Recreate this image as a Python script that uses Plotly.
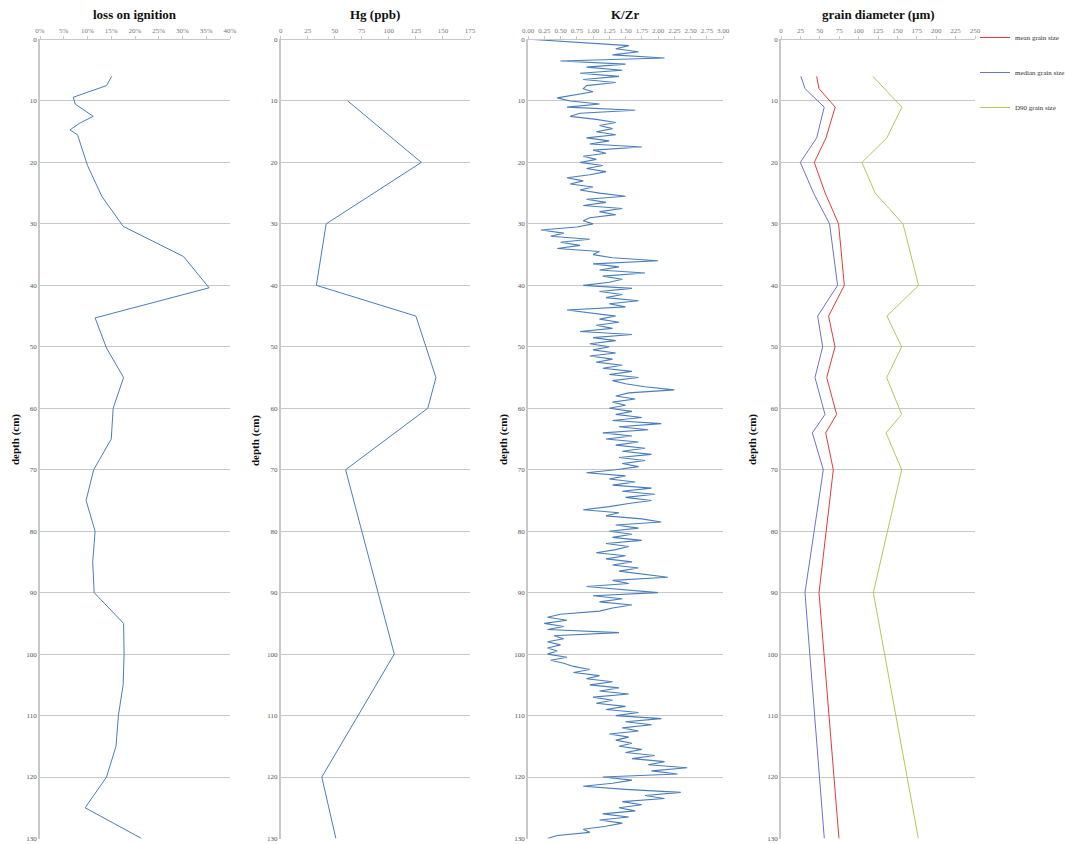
import plotly.graph_objects as go

# ---------------- data ----------------
loi_depth = [6, 7.5, 9.4, 10.5, 12.5, 13.6, 14.7, 15.5, 20.5, 25.5, 30.4, 35.3, 40.4, 45.3, 50.2,
             55, 60, 65, 70, 75, 80, 85, 90, 95, 100, 105, 110, 115, 120, 125, 130]
loi_pct = [15.1, 14.0, 7.0, 7.4, 11.2, 8.4, 6.3, 7.9, 10.0, 13.0, 17.5, 30.2, 35.6, 11.6, 14.0,
           17.6, 15.4, 15.0, 11.3, 9.7, 11.6, 11.1, 11.4, 17.6, 17.7, 17.5, 16.5, 16.0, 14.0, 9.5, 21.4]

hg_depth = [10, 20, 30, 40, 45, 55, 60, 70, 100, 120, 130]
hg_ppb = [62, 130, 42, 33, 125, 143.5, 136, 60, 105, 38, 51]

kzr_step = 0.5
kzr = [
    0.08, 0.90, 1.55, 1.35, 1.70, 1.30, 2.10, 0.50, 1.50, 0.90,
    1.45, 0.80, 1.40, 0.85, 1.35, 0.90, 0.85, 1.00, 0.70, 0.45,
    0.65, 1.10, 0.60, 1.65, 0.80, 0.65, 1.05, 1.35, 1.10, 1.30,
    1.05, 1.35, 0.90, 1.25, 0.95, 1.75, 1.00, 1.20, 0.85, 1.05,
    0.80, 1.15, 0.90, 1.20, 0.95, 0.60, 0.85, 0.65, 1.00, 0.80,
    1.10, 1.50, 0.90, 1.20, 0.85, 1.45, 1.10, 1.35, 0.95, 0.85,
    1.00, 0.75, 0.20, 0.55, 0.35, 0.95, 0.50, 0.80, 0.45, 1.10,
    1.00, 1.30, 2.00, 1.00, 1.40, 1.10, 1.80, 1.15, 1.45, 1.25,
    0.85, 1.60, 1.10, 1.45, 1.20, 1.70, 1.25, 1.50, 0.60, 1.00,
    1.35, 1.10, 1.40, 1.05, 1.30, 0.80, 1.60, 1.00, 1.35, 0.95,
    1.25, 1.00, 1.35, 0.95, 1.30, 1.05, 1.45, 1.15, 1.60, 1.25,
    1.70, 1.30, 1.50, 1.80, 2.25, 1.55, 1.35, 1.65, 1.30, 1.50,
    1.25, 1.60, 1.35, 1.75, 1.30, 2.05, 1.40, 1.85, 1.15, 1.60,
    1.20, 1.70, 1.35, 1.80, 1.45, 1.90, 1.40, 1.80, 1.45, 1.70,
    1.35, 0.90, 1.50, 1.25, 1.65, 1.30, 1.90, 1.45, 1.95, 1.50,
    1.90, 1.55, 1.25, 0.85, 1.40, 1.20, 1.75, 2.05, 1.35, 1.70,
    1.25, 1.60, 1.30, 1.75, 1.20, 1.55, 1.35, 1.05, 1.50, 1.20,
    1.60, 1.30, 1.70, 1.40, 1.80, 2.15, 1.30, 1.55, 0.90, 1.40,
    2.00, 1.00, 1.45, 1.10, 1.60, 1.30, 1.10, 0.50, 0.30, 0.60,
    0.25, 0.55, 0.30, 1.40, 0.40, 0.55, 0.30, 0.50, 0.30, 0.45,
    0.30, 0.60, 0.35, 0.55, 0.70, 0.95, 0.70, 1.10, 0.90, 1.30,
    0.95, 1.40, 1.10, 1.55, 1.00, 1.30, 1.05, 1.50, 1.20, 1.70,
    1.35, 2.05, 1.50, 1.90, 1.45, 1.70, 1.25, 1.55, 1.35, 1.60,
    1.40, 1.75, 1.50, 1.95, 1.60, 2.10, 1.85, 2.45, 1.90, 2.30,
    1.15, 1.60, 1.30, 0.85, 1.50, 2.35, 1.80, 2.10, 1.45, 1.75,
    1.40, 1.65, 1.15, 1.55, 1.10, 1.45, 1.20, 0.85, 0.95, 0.45,
    0.30,
]
kzr_depth = [i * kzr_step for i in range(len(kzr))]

grain_depth = [6, 8, 11, 16, 20, 25, 30, 40, 45, 50, 55, 61, 64, 70, 90, 130]
grain_mean = [46, 49, 69.8, 58, 42.9, 57, 74.2, 81.6, 61.3, 69.6, 58.9, 71.7, 57.6, 67.4, 49, 74.7]
grain_median = [25.6, 31, 55.7, 46, 24.9, 42, 62.6, 72.9, 47.2, 53.7, 43.8, 56.7, 40.4, 54.5, 30.9, 55.8]
grain_d90 = [118.4, None, 155.8, 136.5, 104.3, 121.4, 157.2, 177.3, 136.5, 155.5, 136.2, 155.5, 135.3, 155.5, 119, 177]

titles = ["loss on ignition", "Hg (ppb)", "K/Zr", "grain diameter (µm)"]

# ---------------- layout helpers ----------------
W, H = 1065, 844
Y_TOP, Y_BOT = 39.5, 838.5
panels_px = [(40, 230), (280.7, 470), (528, 723), (781, 975)]
xranges = [[0, 40], [0, 175], [0, 3.0], [0, 250]]
dticks = [5, 25, 0.25, 25]
title_x = [135, 375, 625, 878]
ylab_x = [15, 255, 503, 752]

SERIF = "Liberation Serif, Times New Roman, serif"
BLUE = "#4a7ebb"

fig = go.Figure()

fig.add_trace(go.Scatter(x=loi_pct, y=loi_depth, mode="lines", line=dict(color=BLUE, width=1),
                         xaxis="x", yaxis="y", showlegend=False))
fig.add_trace(go.Scatter(x=hg_ppb, y=hg_depth, mode="lines", line=dict(color=BLUE, width=1),
                         xaxis="x2", yaxis="y2", showlegend=False))
fig.add_trace(go.Scatter(x=kzr, y=kzr_depth, mode="lines", line=dict(color=BLUE, width=1.1),
                         xaxis="x3", yaxis="y3", showlegend=False))
fig.add_trace(go.Scatter(x=grain_mean, y=grain_depth, mode="lines", name="mean grain size",
                         line=dict(color="#e03c3c", width=1), xaxis="x4", yaxis="y4",
                         legendgroup="a"))
fig.add_trace(go.Scatter(x=grain_median, y=grain_depth, mode="lines", name="median grain size",
                         line=dict(color="#6e72c8", width=1), xaxis="x4", yaxis="y4",
                         legendgroup="b"))
fig.add_trace(go.Scatter(x=grain_d90, y=grain_depth, mode="lines", name="D90 grain size",
                         line=dict(color="#b9c45c", width=1), xaxis="x4", yaxis="y4",
                         connectgaps=True, legendgroup="c"))

ydom = [1 - Y_BOT / H, 1 - Y_TOP / H]
layout = dict(
    width=W, height=H, margin=dict(l=0, r=0, t=0, b=0, autoexpand=False),
    paper_bgcolor="white", plot_bgcolor="white",
    font=dict(family=SERIF, color="#333"),
    legend=dict(x=975 / W, y=1 - 23 / H, xanchor="left", yanchor="top",
                font=dict(size=7, family=SERIF, color="#333"),
                tracegroupgap=16, itemwidth=30, bgcolor="rgba(0,0,0,0)"),
    annotations=[],
)
for i in range(4):
    sfx = "" if i == 0 else str(i + 1)
    x0, x1 = panels_px[i]
    layout["xaxis" + sfx] = dict(
        domain=[x0 / W, x1 / W], range=xranges[i], side="top", anchor="y" + sfx,
        dtick=dticks[i], tick0=0, showgrid=False, zeroline=False, automargin=False,
        showline=True, linecolor="#c8c8c8", linewidth=1,
        ticks="outside", ticklen=3, tickcolor="#c8c8c8",
        tickfont=dict(size=7, color="#777", family=SERIF),
        ticksuffix="%" if i == 0 else "",
        tickformat=".2f" if i == 2 else None,
    )
    layout["yaxis" + sfx] = dict(
        domain=ydom, range=[130, 0], anchor="x" + sfx, dtick=10, tick0=0,
        showgrid=True, gridcolor="#c8c8c8", gridwidth=1, zeroline=False, automargin=False,
        showline=True, linecolor="#c8c8c8", linewidth=1.5, ticks="",
        tickfont=dict(size=7, color="#555", family=SERIF),
    )
    layout["annotations"].append(dict(
        text="<b>" + titles[i] + "</b>", x=title_x[i] / W, y=1 - 14 / H,
        xref="paper", yref="paper", showarrow=False, xanchor="center", yanchor="middle",
        font=dict(size=13, family=SERIF, color="#111")))
    layout["annotations"].append(dict(
        text="<b>depth (cm)</b>", x=ylab_x[i] / W, y=1 - 440 / H, textangle=-90,
        xref="paper", yref="paper", showarrow=False, xanchor="center", yanchor="middle",
        font=dict(size=11, family=SERIF, color="#111")))

fig.update_layout(**layout)
fig.write_html("out.html", config={"displayModeBar": False},
               post_script="document.body.style.margin='0';")
